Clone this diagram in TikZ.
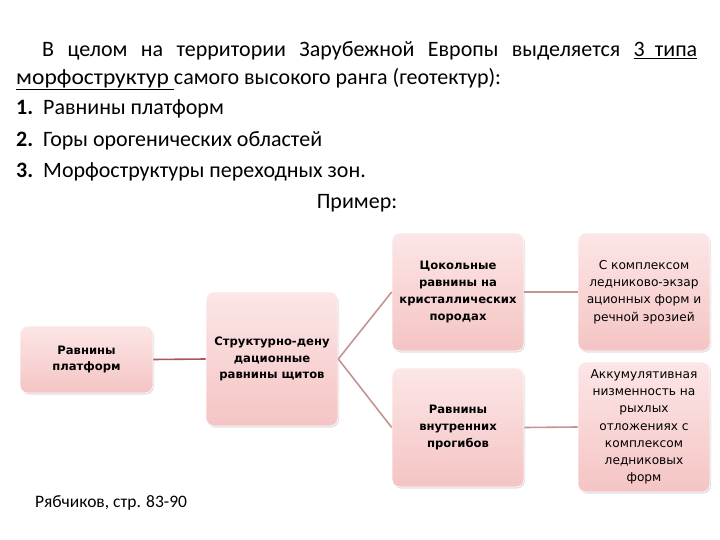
\documentclass[tikz,border=0pt]{standalone}
\usepackage{fontspec}
\setmainfont{Carlito}
\newfontfamily\boxfont{DejaVu Sans}
\usetikzlibrary{shadows}
\definecolor{boxtop}{RGB}{252,230,230}
\definecolor{boxbot}{RGB}{245,196,196}
\definecolor{linkdark}{RGB}{168,88,88}
\definecolor{linklight}{RGB}{196,148,148}
\begin{document}
\begin{tikzpicture}[x=1pt,y=-1pt,
  pbox/.style={rounded corners=8pt, top color=boxtop, bottom color=boxbot,
    draw=white, line width=0.6pt, align=center, inner sep=2pt,
    drop shadow={shadow xshift=1pt, shadow yshift=-1.5pt, opacity=0.25},
    font=\boxfont\fontsize{11.6}{16.8}\selectfont},
  rbox/.style={pbox, font=\boxfont\fontsize{12.2}{17.2}\selectfont},
  txt/.style={inner sep=0pt, font=\fontsize{22}{28}\selectfont},
  link/.style={draw=linklight, line width=1.6pt}]
\useasboundingbox (0,0) rectangle (720,540);
% top text
\node[txt, anchor=north west, text width=681pt, align=justify,
  font=\fontsize{22}{28}\selectfont] (para) at (16,41)
  {\hspace*{26pt}В целом на территории Зарубежной Европы выделяется \underline{3\hspace{10pt}типа}\linebreak\underline{\scalebox{1.07}[1]{морфоструктур}\ }самого высокого ранга (геотектур):};
\node[txt, anchor=base west] (l1) at (16,115) {\makebox[27pt][l]{\textbf{1.}}Равнины платформ};
\node[txt, anchor=base west] (l2) at (16,147) {\makebox[27pt][l]{\textbf{2.}}Горы орогенических областей};
\node[txt, anchor=base west] (l3) at (16,178) {\makebox[27pt][l]{\textbf{3.}}Морфоструктуры переходных зон.};
\node[txt, anchor=base] (ex) at (357,209) {Пример:};
% boxes
\node[pbox, minimum width=133pt, minimum height=67pt] (A) at (86.5,359.5) {\bfseries Равнины\\\bfseries платформ};
\node[pbox, minimum width=132pt, minimum height=134pt] (B) at (272,359) {\bfseries Структурно-дену\\\bfseries дационные\\\bfseries равнины щитов};
\node[pbox, minimum width=132pt, minimum height=118pt] (C) at (458,292) {\bfseries Цокольные\\\bfseries равнины на\\\bfseries кристаллических\\\bfseries породах};
\node[rbox, minimum width=132pt, minimum height=118pt] (D) at (644,292) {С комплексом\\ледниково-экзар\\ационных форм и\\речной эрозией};
\node[pbox, minimum width=132pt, minimum height=119pt] (E) at (458,427.5) {\bfseries Равнины\\\bfseries внутренних\\\bfseries прогибов};
\node[rbox, minimum width=132pt, minimum height=130pt] (F) at (644,427) {Аккумулятивная\\низменность на\\рыхлых\\отложениях с\\комплексом\\ледниковых\\форм};
% connectors
\draw[link, draw=linkdark] (A.east) -- (B.west);
\draw[link] (B.east) -- (C.west);
\draw[link] (B.east) -- (E.west);
\draw[link] (C.east) -- (D.west);
\draw[link] (E.east) -- (F.west);
% source
\node[anchor=base west, inner sep=0pt, font=\fontsize{17.5}{20}\selectfont] (src) at (35,507) {Рябчиков, стр. 83-90};
\end{tikzpicture}
\end{document}
